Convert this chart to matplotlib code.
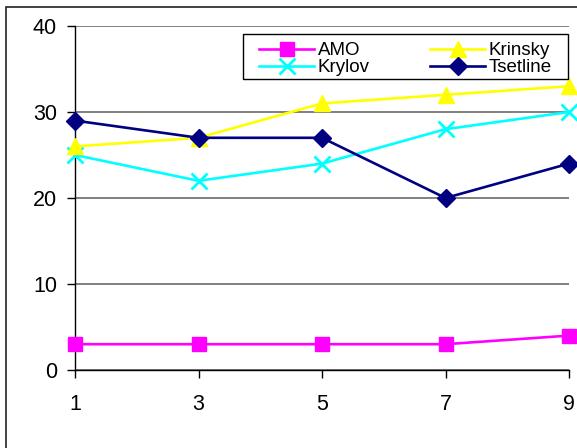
import matplotlib.pyplot as plt
from matplotlib.patches import Rectangle

plt.rcParams["font.family"] = ["Liberation Sans", "DejaVu Sans"]

# Iteration points and results per automaton
x_vals = [1, 3, 5, 7, 9]
amo = [3, 3, 3, 3, 4]
krinsky = [26, 27, 31, 32, 33]
krylov = [25, 22, 24, 28, 30]
tsetline = [29, 27, 27, 20, 24]
y_ticks = [0, 10, 20, 30, 40]

fig = plt.figure(figsize=(5.77, 4.48), dpi=100)

# outer chart frame
fig.patches.append(Rectangle((6 / 577, -0.2), 1.2, 1.2 - 7 / 448,
                             transform=fig.transFigure, fill=False,
                             edgecolor="#222222", linewidth=1.2))

ax = fig.add_axes([75 / 577, 78 / 448, 494 / 577, 344 / 448])

lw = 1.9
ax.plot(x_vals, amo, color="#FF00FF", marker="s", markersize=10, linewidth=lw,
        label="AMO", clip_on=False, zorder=3)
ax.plot(x_vals, krylov, color="#00FFFF", marker="x", markersize=11, markeredgewidth=2,
        linewidth=lw, label="Krylov", clip_on=False, zorder=3)
ax.plot(x_vals, krinsky, color="#FFFF00", marker="^", markersize=11, linewidth=lw,
        label="Krinsky", clip_on=False, zorder=3)
ax.plot(x_vals, tsetline, color="#000080", marker="D", markersize=9, linewidth=lw,
        label="Tsetline", clip_on=False, zorder=4)

ax.set_xlim(1, 9)
ax.set_ylim(0, 40)
ax.set_xticks(x_vals)
ax.set_yticks(y_ticks)
ax.tick_params(axis="both", labelsize=15.5, length=5.5, width=1, direction="out")
ax.tick_params(axis="y", pad=7.5)
ax.tick_params(axis="x", pad=12)

ax.yaxis.grid(True, color="#808080", linewidth=1.4)
ax.set_axisbelow(True)
for side in ("top", "right"):
    ax.spines[side].set_visible(False)
for side in ("left", "bottom"):
    ax.spines[side].set_linewidth(1.0)

# legend box drawn separately so its padding can differ from the entries'
box_x0, box_x1 = (243 - 75) / 494, (568 - 75) / 494
box_y0, box_y1 = (370 - 79) / 344, (370 - 34) / 344
ax.add_patch(Rectangle((box_x0, box_y0), box_x1 - box_x0, box_y1 - box_y0,
                       transform=ax.transAxes, facecolor="white", edgecolor="black",
                       linewidth=1.0, zorder=5, clip_on=False))
leg = ax.legend(ncol=2, loc="center",
                bbox_to_anchor=((box_x0 + box_x1) / 2, (box_y0 + box_y1) / 2 - 0.008),
                fontsize=13.5, frameon=False, handlelength=2.9, handletextpad=0.2,
                labelspacing=0.0, borderpad=0.0, borderaxespad=0.0,
                columnspacing=3.25)
leg.set_zorder(6)

fig.savefig("out.png", dpi=100)
